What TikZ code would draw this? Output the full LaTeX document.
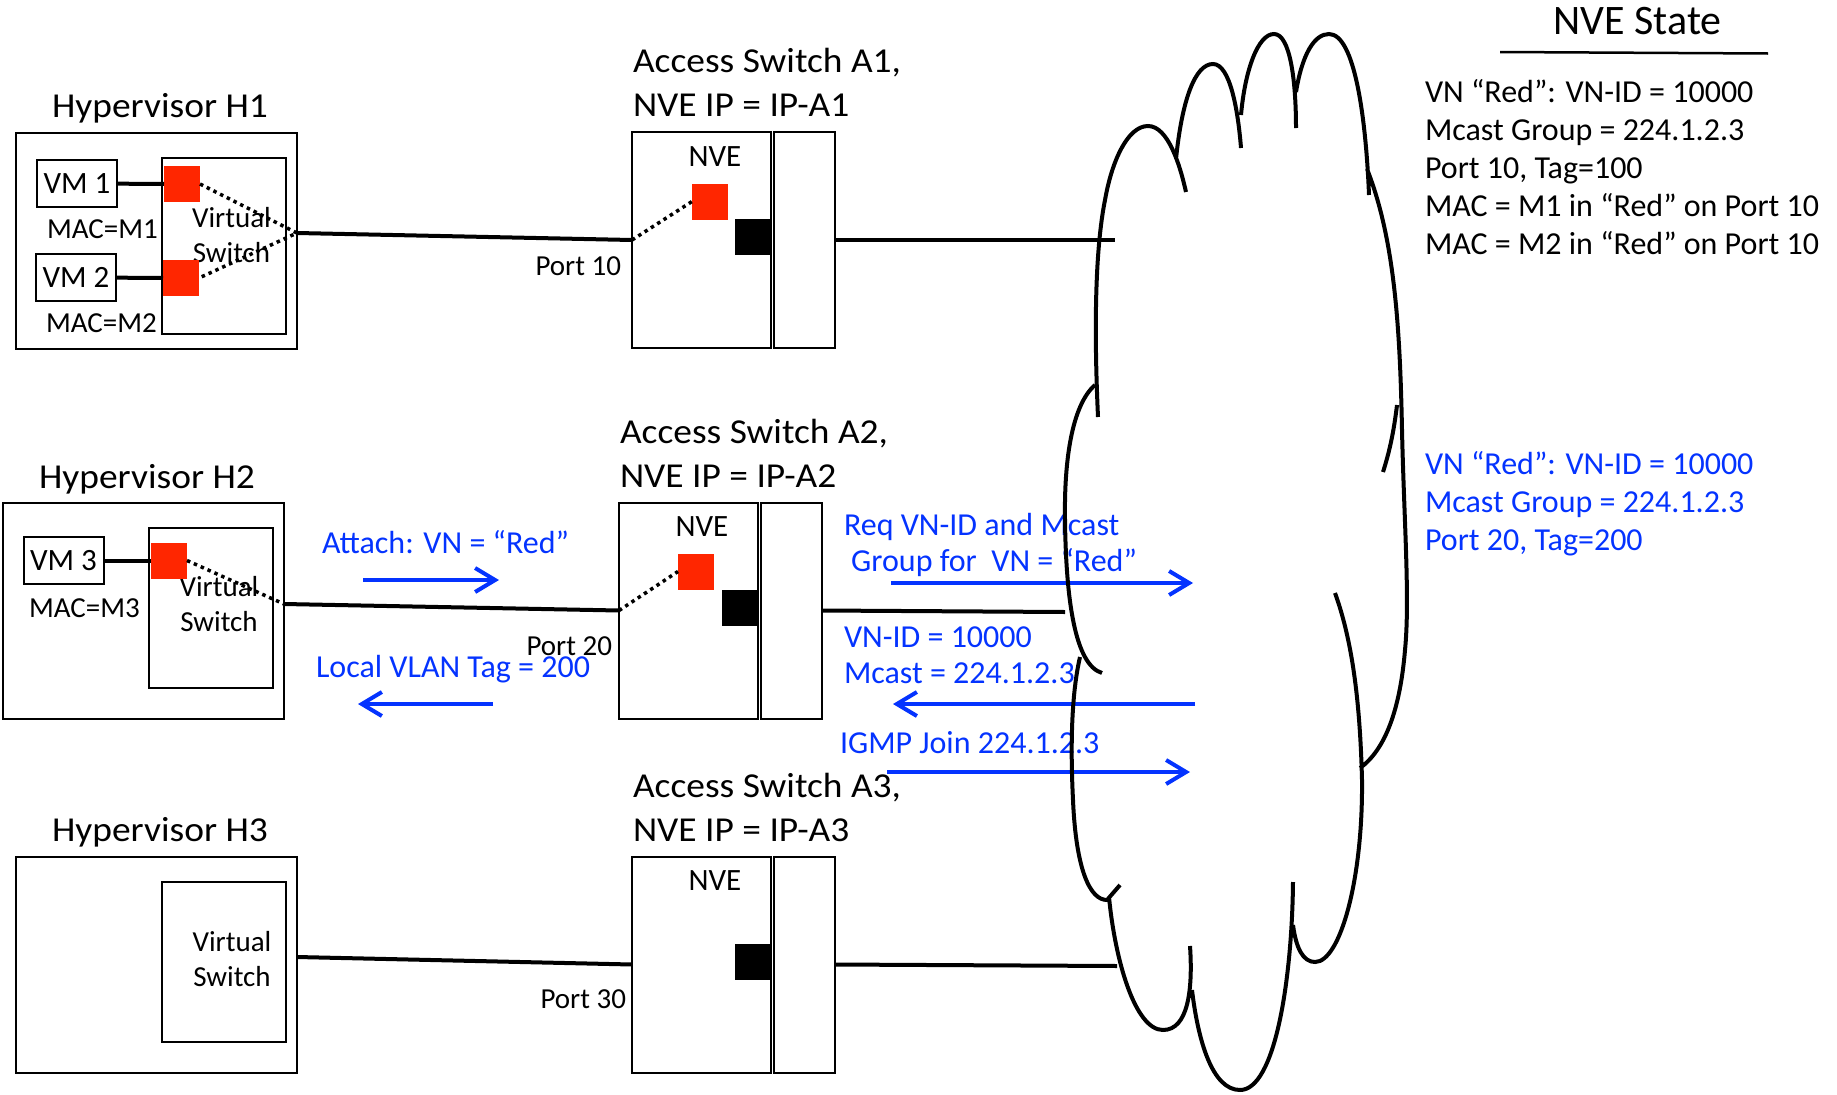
\documentclass[tikz,border=0pt]{standalone}
\usepackage{fontspec}
\setmainfont{Carlito}
\newfontfamily\labelfont{Carlito}[FakeStretch=1.07]
\usetikzlibrary{positioning,calc,arrows.meta}
\definecolor{msgblue}{RGB}{4,51,255}
\definecolor{portred}{RGB}{255,38,0}

\begin{document}
\begin{tikzpicture}[x=1pt, y=-1pt,
    every node/.style={inner sep=0pt, outer sep=0pt},
    box/.style={draw, line width=2pt},
    hyper/.style={box, minimum width=281pt, minimum height=216pt},
    vswitch/.style={box, minimum width=124pt, minimum height=160pt},
    vmbox/.style={box, minimum width=80pt, minimum height=47pt, font=\fontsize{31}{37}\selectfont},
    nvebox/.style={box, minimum width=139pt, minimum height=216pt},
    upbox/.style={box, minimum width=61pt, minimum height=216pt},
    vport/.style={fill=portred, minimum size=36pt},
    sport/.style={fill=black, minimum size=36pt},
    link/.style={line width=4pt},
    vlink/.style={line width=3.5pt, dash pattern=on 3.5pt off 4pt},
    msg/.style={msgblue, line width=4pt, -{Straight Barb[length=20pt, width=24pt]}},
    lbl/.style={font=\labelfont\fontsize{35}{44}\selectfont, align=left},
    small/.style={font=\fontsize{29}{35}\selectfont, align=center},
    mac/.style={font=\fontsize{29}{35}\selectfont},
    state/.style={font=\fontsize{32}{38}\selectfont, align=left},
    msgtext/.style={text=msgblue, font=\fontsize{32}{36}\selectfont, align=left},
    cloudline/.style={line width=4pt}
  ]
  \useasboundingbox (0,0) rectangle (1837,1095);

  % hypervisor H1
  \node[hyper] (h1) at (156.5,241) {};
  \node[vswitch, minimum height=176pt] (vs1) at (224,246) {};
  \node[small] (vst1) at (231.5,235) {Virtual\\Switch};
  \node[vmbox] (vm1) at (77,183.5) {VM 1};
  \node[vmbox] (vm2) at (76,277.5) {VM 2};
  \node[mac, anchor=base west] (mac1) at (47,238) {MAC=M1};
  \node[mac, anchor=base west] (mac2) at (46,332) {MAC=M2};
  \node[vport] (p1) at (182,184) {};
  \node[vport] (p2) at (181,278) {};
  \node[lbl, anchor=base] (h1lbl) at (160,117) {Hypervisor H1};
  \coordinate (h1p) at ([yshift=8pt]h1.east);
  \draw[link] (vm1) -- (p1);
  \draw[link] (vm2) -- (p2);
  \draw[vlink] (p1.east) -- (h1p) -- (p2.east);

  % hypervisor H2
  \node[hyper] (h2) at (143.5,611) {};
  \node[vswitch] (vs2) at (210.5,608) {};
  \node[small] (vst2) at (219,604.5) {Virtual\\Switch};
  \node[vmbox] (vm3) at (63.5,560.5) {VM 3};
  \node[mac, anchor=base west] (mac3) at (29,617) {MAC=M3};
  \node[vport] (p3) at (169,560.5) {};
  \node[lbl, anchor=base] (h2lbl) at (147,488) {Hypervisor H2};
  \coordinate (h2p) at ([yshift=7pt]h2.east);
  \draw[link] (vm3) -- (p3);
  \draw[vlink] (p3.east) -- (h2p);

  % hypervisor H3
  \node[hyper] (h3) at (156.5,964.5) {};
  \node[vswitch] (vs3) at (224,962) {};
  \node[small] (vst3) at (232,959) {Virtual\\Switch};
  \node[lbl, anchor=base] (h3lbl) at (160,841) {Hypervisor H3};
  \coordinate (h3p) at ([yshift=7.5pt]h3.east);

  % access switches
  \foreach \n/\x/\y/\px/\py/\pn in {1/701.5/240/-11/35/10, 2/688.5/610.5/-7/44.5/20, 3/701.5/964.5/-6/43.5/30} {
    \node[nvebox] (s\n) at (\x,\y) {};
    \node[upbox, right=2.5pt of s\n] (u\n) {};
    \node[small, font=\fontsize{31}{37}\selectfont, anchor=base] (nve\n) at ($(s\n.north)+(13.5,34)$) {NVE};
    \node[sport, anchor=east] (k\n) at ($(s\n.east)+(0,-3)$) {};
    \node[small, anchor=base east] (pt\n) at ($(s\n.west)+(\px,\py)$) {Port \pn};
    \node[lbl, anchor=base west] (a\n) at ($(s\n.north west)+(1,-15.3)$) {Access Switch A\n,\\NVE IP = IP-A\n};
  }
  \node[vport] (r1) at ($(s1.center)+(8.5,-38.5)$) {};
  \node[vport] (r2) at ($(s2.center)+(7.5,-39)$) {};
  \draw[vlink] (s1.west) -- (r1.west);
  \draw[vlink] (s2.west) -- (r2.west);

  % links
  \coordinate (c1) at (1115,240);
  \coordinate (c2) at (1065,612);
  \coordinate (c3) at (1117,966);
  \draw[link] (h1p) -- (s1.west);
  \draw[link] (h2p) -- (s2.west);
  \draw[link] (h3p) -- (s3.west);
  \draw[link] (u1.east) -- (c1);
  \draw[link] (u2.east) -- (c2);
  \draw[link] (u3.east) -- (c3);

  % messages
  \node[msgtext, anchor=base west] (attach) at (322,553) {Attach: VN = “Red”};
  \node[msgtext, anchor=base west] (vlan) at (316,677) {Local VLAN Tag = 200};
  \node[msgtext, anchor=base west] (req) at (844,571) {Req VN-ID and Mcast\\~Group for~ VN = “Red”};
  \node[msgtext, anchor=base west] (resp) at (844,683) {VN-ID = 10000\\Mcast = 224.1.2.3};
  \node[msgtext, anchor=base west] (igmp) at (840,753) {IGMP Join 224.1.2.3};
  \coordinate (attA) at (363,580);   \coordinate (attB) at (499,580);
  \coordinate (vlanA) at (493,704);  \coordinate (vlanB) at (358,704);
  \coordinate (reqA) at (891,583);   \coordinate (reqB) at (1193,583);
  \coordinate (respA) at (1195,704); \coordinate (respB) at (893,704);
  \coordinate (igmpA) at (887,772);  \coordinate (igmpB) at (1190,772);
  \draw[msg] (attA) -- (attB);
  \draw[msg] (vlanA) -- (vlanB);
  \draw[msg] (reqA) -- (reqB);
  \draw[msg] (respA) -- (respB);
  \draw[msg] (igmpA) -- (igmpB);

  % state table
  \node[font=\fontsize{42}{50}\selectfont, anchor=base] (st) at (1637.5,34) {NVE State};
  \draw[line width=2.5pt] (1500,52) -- (1768,53.5);
  \node[state, anchor=base west] (tab1) at (1425,254) {VN “Red”: VN-ID = 10000\\Mcast Group = 224.1.2.3\\Port 10, Tag=100\\MAC = M1 in “Red” on Port 10\\MAC = M2 in “Red” on Port 10};
  \node[state, text=msgblue, anchor=base west] (tab2) at (1425,550) {VN “Red”: VN-ID = 10000\\Mcast Group = 224.1.2.3\\Port 20, Tag=200};

  % cloud
  \draw[cloudline]
    (1098,417) .. controls (1094,330) and (1095,250) .. (1105,200) .. controls (1112,160) and (1128,126) .. (1148,126) .. controls (1168,126) and (1180,165) .. (1186,192)
    (1176,159) .. controls (1182,100) and (1195,64) .. (1213,64) .. controls (1230,64) and (1238,110) .. (1241,148)
    (1241,115) .. controls (1245,70) and (1258,34) .. (1274,34) .. controls (1290,34) and (1296,80) .. (1296,128)
    (1296,92) .. controls (1302,55) and (1314,34) .. (1329,34) .. controls (1355,34) and (1366,120) .. (1369,195)
    (1367,169) .. controls (1395,240) and (1400,330) .. (1402,430) .. controls (1404,520) and (1410,600) .. (1405,650) .. controls (1400,710) and (1385,750) .. (1360,768)
    (1397,405) .. controls (1394,430) and (1390,450) .. (1383,472)
    (1335,593) .. controls (1352,640) and (1360,700) .. (1362,780) .. controls (1363,880) and (1340,962) .. (1315,962) .. controls (1303,962) and (1296,948) .. (1293,925);
  \draw[cloudline]
    (1293,882) .. controls (1292,980) and (1275,1090) .. (1240,1090) .. controls (1212,1090) and (1198,1040) .. (1192,990)
    (1190,946) .. controls (1193,990) and (1188,1030) .. (1163,1030) .. controls (1135,1030) and (1115,960) .. (1109,897)
    (1080,657) .. controls (1070,700) and (1071,760) .. (1073,800) .. controls (1076,870) and (1090,900) .. (1107,900) -- (1120,885)
    (1095,385) .. controls (1072,405) and (1064,460) .. (1065,520) .. controls (1066,600) and (1075,665) .. (1102,673);
\end{tikzpicture}
\end{document}
